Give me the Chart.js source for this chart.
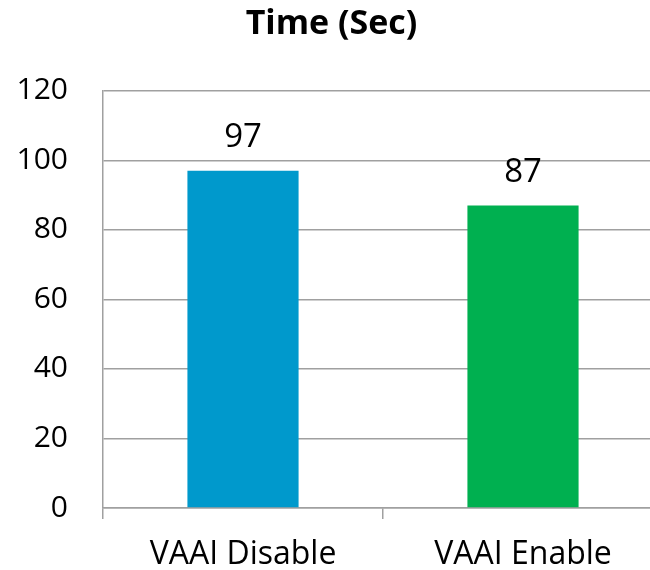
<!DOCTYPE html>
<html>
<head>
<meta charset="utf-8">
<script src="https://cdn.jsdelivr.net/npm/chart.js@4"></script>
<style>
  html, body { margin: 0; padding: 0; background: #fff; overflow: hidden; }
  #wrap { width: 663px; height: 570px; }
</style>
</head>
<body>
<div id="wrap"><canvas id="timeChart" width="663" height="570"></canvas></div>
<script>
const categories = ['VAAI Disable', 'VAAI Enable'];
const timeValues = [97, 87];
const barColors = ['#0099CC', '#00B050'];
const yTicks = [0, 20, 40, 60, 80, 100, 120];

const fontFamily = "'Open Sans', 'Liberation Sans', sans-serif";

// draws the numbers above each bar
const valueLabels = {
    id: 'valueLabels',
    afterDatasetsDraw(chart) {
        const ctx = chart.ctx;
        const meta = chart.getDatasetMeta(0);
        ctx.save();
        ctx.font = '33px ' + fontFamily;
        ctx.fillStyle = '#000';
        ctx.textAlign = 'center';
        ctx.textBaseline = 'middle';
        meta.data.forEach((bar, i) => {
            ctx.fillText(timeValues[i], bar.x, bar.y - 33);
        });
        ctx.restore();
    }
};

const ctx = document.getElementById('timeChart').getContext('2d');
const chart = new Chart(ctx, {
    type: 'bar',
    data: {
        labels: categories,
        datasets: [{
            label: 'Time (Sec)',
            data: timeValues,
            backgroundColor: barColors,
            categoryPercentage: 1,
            barPercentage: 0.397,
        }]
    },
    options: {
        responsive: false,
        animation: false,
        layout: { padding: 0 },
        plugins: {
            legend: { display: false },
            tooltip: { enabled: false },
            title: {
                display: true,
                text: 'Time (Sec)',
                color: '#000',
                font: { family: fontFamily, size: 34, weight: 'bold', lineHeight: 1.2 },
                padding: { top: 4, bottom: 46 }
            }
        },
        scales: {
            x: {
                offset: true,
                grid: {
                    offset: true,
                    drawOnChartArea: false,
                    drawTicks: true,
                    tickLength: 11,
                    color: '#A0A0A0',
                    lineWidth: 1.5
                },
                border: { display: true, color: '#A0A0A0', width: 1.5 },
                ticks: {
                    color: '#000',
                    padding: 17,
                    font: { family: fontFamily, size: 32 }
                },
                afterFit(scale) { scale.height = 62; }
            },
            y: {
                min: 0,
                max: 120,
                afterBuildTicks(scale) {
                    scale.ticks = yTicks.map(v => ({ value: v }));
                },
                grid: {
                    drawTicks: false,
                    color: '#A0A0A0',
                    lineWidth: 1.5
                },
                border: { display: true, color: '#A0A0A0', width: 1.5 },
                ticks: {
                    color: '#000',
                    padding: 35,
                    font: { family: fontFamily, size: 30 }
                },
                afterFit(scale) { scale.width = 103; }
            }
        }
    },
    plugins: [valueLabels]
});
</script>
</body>
</html>
